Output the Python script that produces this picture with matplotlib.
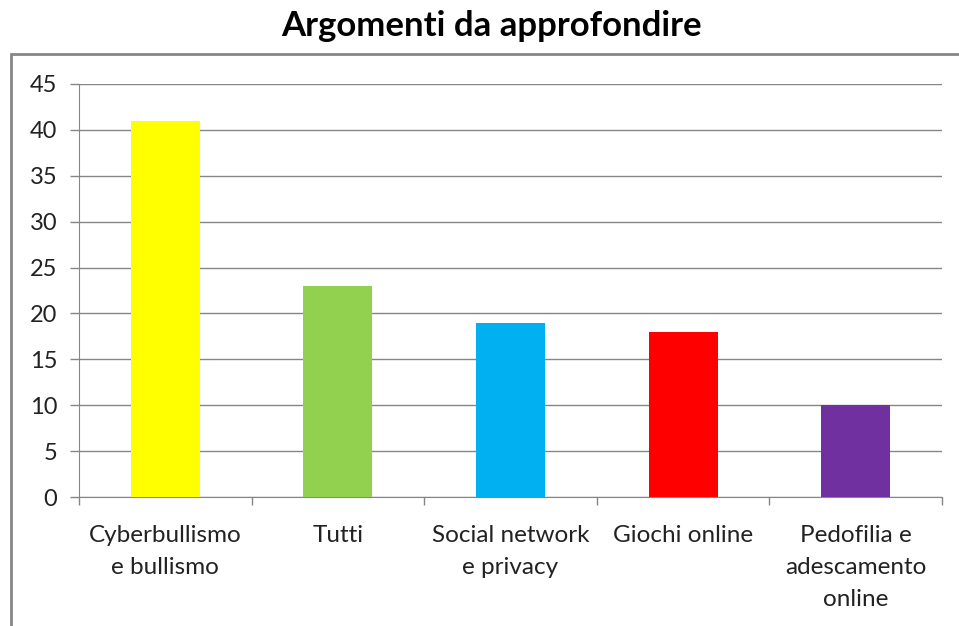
import matplotlib.pyplot as plt
from matplotlib.patches import Rectangle

categories = ["Cyberbullismo\ne bullismo", "Tutti", "Social network\ne privacy",
              "Giochi online", "Pedofilia e\nadescamento\nonline"]
values = [41, 23, 19, 18, 10]
colors = ["#FFFF00", "#92D050", "#00B0F0", "#FF0000", "#7030A0"]
yticks = [0, 5, 10, 15, 20, 25, 30, 35, 40, 45]

plt.rcParams["font.family"] = ["Lato", "DejaVu Sans"]

W, H = 959, 626
fig = plt.figure(figsize=(W / 100, H / 100), dpi=100)

# outer chart frame (left/top edges visible, rest cut off)
fig.patches.append(Rectangle((11 / W, -0.05), 1.2, (H - 54) / H + 0.05,
                             transform=fig.transFigure, fill=False,
                             edgecolor="#868686", linewidth=2))

ax = fig.add_axes([79 / W, (H - 497) / H, (942 - 79) / W, (497 - 84) / H])

x = range(len(categories))
ax.bar(x, values, width=0.4, color=colors, zorder=3)

ax.set_xlim(-0.5, len(categories) - 0.5)
ax.set_ylim(0, 45)
ax.set_yticks(yticks)
ax.yaxis.grid(True, color="#868686", linewidth=1)
ax.set_axisbelow(True)

ax.set_xticks([i - 0.5 for i in range(len(categories) + 1)], minor=False)
ax.set_xticklabels([])
ax.set_xticks(list(x), minor=True)
ax.set_xticklabels(categories, minor=True, fontsize=17.5, color="#222222",
                   linespacing=1.62)
ax.tick_params(axis="x", which="major", length=6, color="#868686", width=1)
ax.tick_params(axis="x", which="minor", length=0, pad=20.5)
ax.tick_params(axis="y", length=6.5, color="#868686", width=1, labelsize=17,
               labelcolor="#222222", pad=9)

for side in ["top", "right"]:
    ax.spines[side].set_visible(False)
ax.spines["left"].set_color("#868686")
ax.spines["bottom"].set_color("#868686")

fig.text(491 / W, 1 - 26 / H, "Argomenti da approfondire", ha="center",
         va="center", fontsize=25, fontweight="bold")

fig.savefig("out.png", dpi=100)
